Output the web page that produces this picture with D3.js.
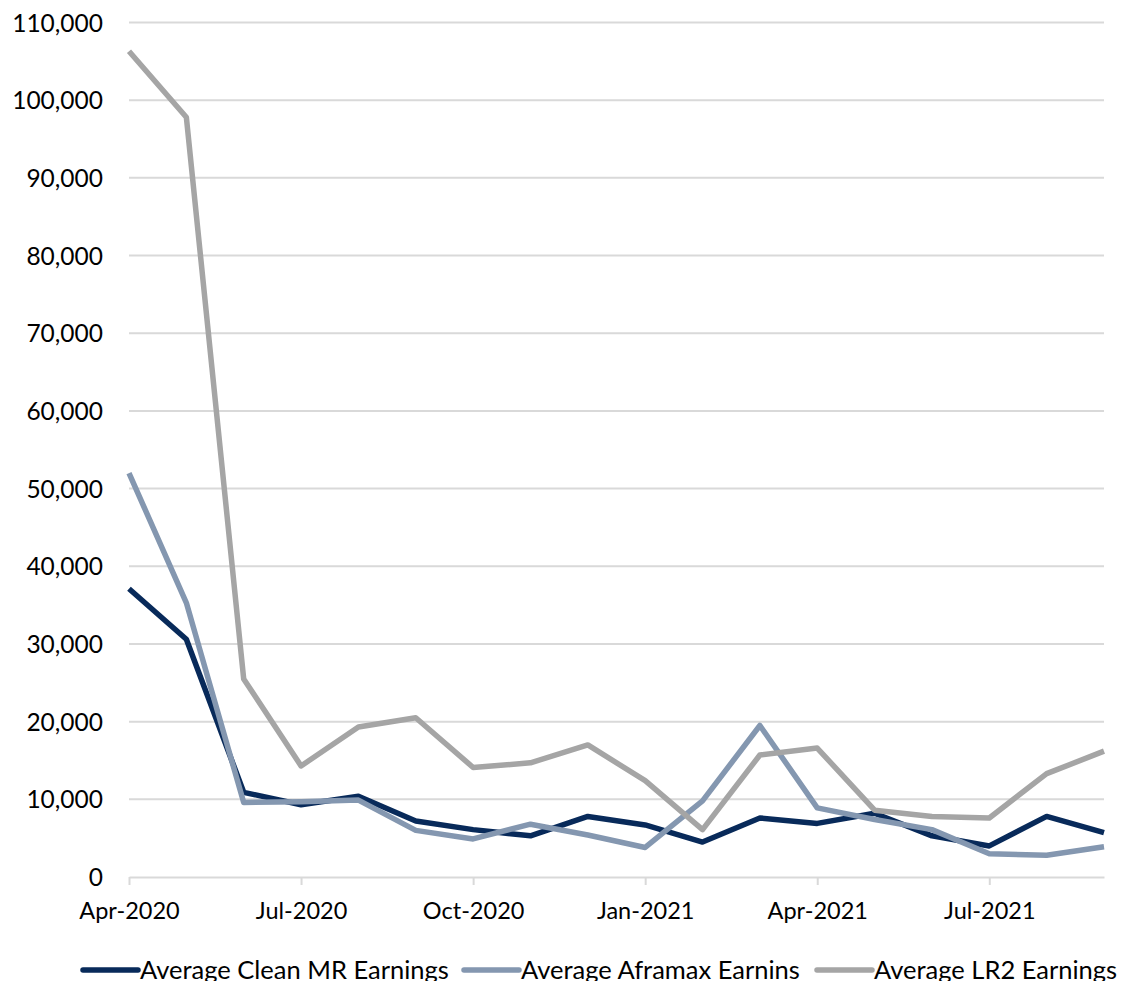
<!DOCTYPE html>
<html>
<head>
<meta charset="utf-8">
<script src="https://cdn.jsdelivr.net/npm/d3@7"></script>
<style>
  html, body { margin: 0; padding: 0; background: #ffffff; }
  svg { display: block; }
  text { font-family: Lato, "Open Sans", sans-serif; fill: #000; }
</style>
</head>
<body>
<svg id="chart" width="1122" height="981"></svg>
<script>
// Monthly categories, Apr-2020 .. Sep-2021
const months = ["Apr-2020","May-2020","Jun-2020","Jul-2020","Aug-2020","Sep-2020",
                "Oct-2020","Nov-2020","Dec-2020","Jan-2021","Feb-2021","Mar-2021",
                "Apr-2021","May-2021","Jun-2021","Jul-2021","Aug-2021","Sep-2021"];

// Average earnings per series (USD/day)
const cleanMR  = [37100, 30600, 10900, 9300, 10400, 7200, 6100, 5300, 7800, 6700, 4500, 7600,
                  6900, 8200, 5300, 4000, 7800, 5700];
const aframax  = [52000, 35300, 9600, 9700, 9900, 6000, 4900, 6800, 5400, 3800, 9800, 19500,
                  8900, 7400, 6100, 3000, 2800, 3900];
const lr2      = [106300, 97800, 25500, 14300, 19300, 20500, 14100, 14700, 17000, 12400, 6100, 15700,
                  16600, 8600, 7800, 7600, 13300, 16200];

const seriesNames = ["Average Clean MR Earnings", "Average Aframax Earnins", "Average LR2 Earnings"];
const xTickLabels = ["Apr-2020","Jul-2020","Oct-2020","Jan-2021","Apr-2021","Jul-2021"];
const yTicks = [0,10000,20000,30000,40000,50000,60000,70000,80000,90000,100000,110000];

const colors = ["#082a5a", "#8497b0", "#a5a5a5"];
const seriesData = [cleanMR, aframax, lr2];

const svg = d3.select("#chart");
const plotLeft = 129, plotRight = 1104, plotTop = 22.5, plotBottom = 877;

const x = d3.scalePoint().domain(months).range([plotLeft, plotRight]);
const y = d3.scaleLinear().domain([0, 110000]).range([plotBottom, plotTop]);

// Horizontal gridlines
svg.append("g")
  .selectAll("line")
  .data(yTicks.filter(d => d > 0))
  .join("line")
  .attr("x1", plotLeft).attr("x2", plotRight)
  .attr("y1", d => y(d)).attr("y2", d => y(d))
  .attr("stroke", "#d9d9d9").attr("stroke-width", 2);

// Y axis labels
const yAxis = d3.axisLeft(y).tickValues(yTicks).tickSize(0).tickPadding(0)
  .tickFormat(d3.format(","));
const gy = svg.append("g").attr("transform", "translate(103,0)").call(yAxis);
gy.select(".domain").remove();
gy.selectAll("text").style("font-size", "24.5px").attr("dy", "0.35em")
  .style("font-family", "Lato, sans-serif").attr("fill", "#000");

// X axis
const xAxis = d3.axisBottom(x).tickValues(xTickLabels).tickSize(8).tickPadding(17.5).tickSizeOuter(0);
const gx = svg.append("g").attr("transform", `translate(0,${plotBottom})`).call(xAxis);
gx.select(".domain").attr("stroke", "#d9d9d9").attr("stroke-width", 2);
gx.selectAll(".tick line").attr("stroke", "#d9d9d9").attr("stroke-width", 2);
gx.selectAll("text").style("font-size", "23.5px").style("font-family", "Lato, sans-serif")
  .attr("fill", "#000");

// Series lines
const line = d3.line().x((d, i) => x(months[i])).y(d => y(d));
svg.append("g")
  .selectAll("path")
  .data(seriesData)
  .join("path")
  .attr("d", line)
  .attr("fill", "none")
  .attr("stroke", (d, i) => colors[i])
  .attr("stroke-width", 5.5)
  .attr("stroke-linejoin", "round");

// Legend
const legendItems = [
  { name: seriesNames[0], color: colors[0], x0: 83 },
  { name: seriesNames[1], color: colors[1], x0: 464 },
  { name: seriesNames[2], color: colors[2], x0: 817 }
];
const lg = svg.append("g");
legendItems.forEach(it => {
  lg.append("line")
    .attr("x1", it.x0).attr("x2", it.x0 + 55)
    .attr("y1", 970).attr("y2", 970)
    .attr("stroke", it.color).attr("stroke-width", 5.5)
    .attr("stroke-linecap", "round");
  lg.append("text")
    .attr("x", it.x0 + 57).attr("y", 979)
    .style("font-size", "25.5px")
    .text(it.name);
});
</script>
</body>
</html>
